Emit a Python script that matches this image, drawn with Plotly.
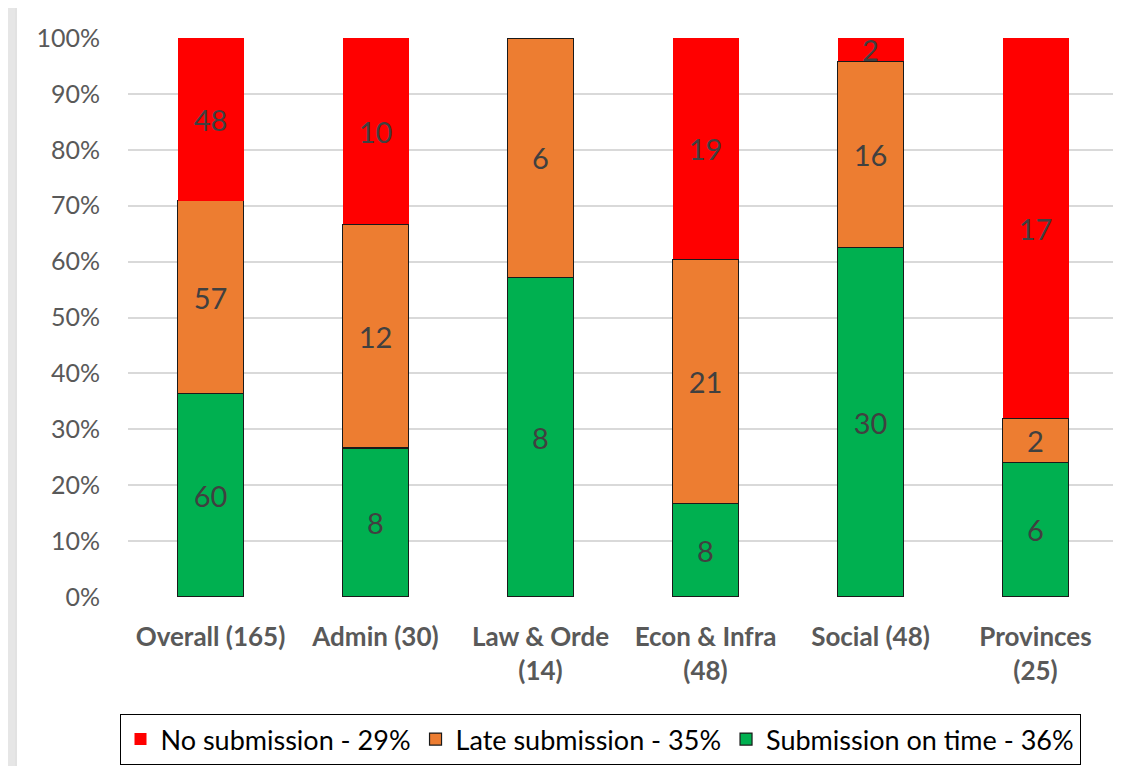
import plotly.graph_objects as go

categories = ["Overall (165)", "Admin (30)", "Law & Orde<br>(14)", "Econ & Infra<br>(48)", "Social (48)", "Provinces<br>(25)"]
no_submission = [48, 10, 0, 19, 2, 17]
late_submission = [57, 12, 6, 21, 16, 2]
on_time = [60, 8, 8, 8, 30, 6]
series_names = ["No submission - 29%", "Late submission - 35%", "Submission on time - 36%"]

OFF = 8  # default page margin of the html body
W, H = 1121 - OFF, 766 - OFF
L, R, T, B = 120, 3, 30, 169
pw = W - L - R
ph = H - T - B

def px_x(p):
    return (p - OFF - L) / pw

def px_y(p):
    return 1 - (p - OFF - T) / ph

fig = go.Figure()

def add(vals, name, color, outline, lw):
    fig.add_trace(go.Bar(
        x=categories, y=vals, name=name,
        marker=dict(color=color, line=dict(color=outline, width=lw)),
        text=[str(v) if v else "" for v in vals],
        textposition="inside", insidetextanchor="middle",
        constraintext="none", textangle=0,
        textfont=dict(family="Lato", size=29, color="#404040"),
        hoverinfo="skip",
    ))

add(on_time, series_names[2], "#00b050", "#1a1a1a", 1.2)
add(late_submission, series_names[1], "#ed7d31", "#1a1a1a", 1.2)
add(no_submission, series_names[0], "#ff0000", "#ff0000", 0)

fig.update_layout(
    width=W, height=H,
    barmode="stack", barnorm="percent", bargap=0.6,
    margin=dict(l=L, r=R, t=T, b=B, autoexpand=False),
    paper_bgcolor="white", plot_bgcolor="white",
    font=dict(family="Lato", color="#595959"),
    legend=dict(
        orientation="h", traceorder="reversed",
        x=px_x(600), xanchor="center", y=px_y(714), yanchor="top",
        bordercolor="black", borderwidth=1,
        font=dict(family="Lato", size=27, color="black"),
        itemwidth=30,
    ),
    yaxis=dict(
        range=[0, 100], dtick=10, ticksuffix="%", automargin=False,
        showgrid=True, gridcolor="#d9d9d9", gridwidth=1.5,
        zeroline=False, showline=False,
        tickfont=dict(family="Lato", size=25, color="#595959"),
        ticks="", ticklabelstandoff=27,
    ),
    xaxis=dict(
        showline=False, ticks="", ticklabelstandoff=22, automargin=False,
        tickfont=dict(family="Lato", size=26, color="#595959", weight="bold"),
    ),
    shapes=[
        dict(type="rect", xref="paper", yref="paper",
             x0=px_x(OFF), x1=px_x(15), y0=px_y(766), y1=px_y(OFF),
             fillcolor="#e6e6e6", line=dict(width=0), layer="below"),
        dict(type="line", xref="paper", yref="paper",
             x0=px_x(16), x1=px_x(16), y0=px_y(766), y1=px_y(OFF),
             line=dict(color="#d9d9d9", width=1.5)),
    ],
)

fig.write_html("out.html")
